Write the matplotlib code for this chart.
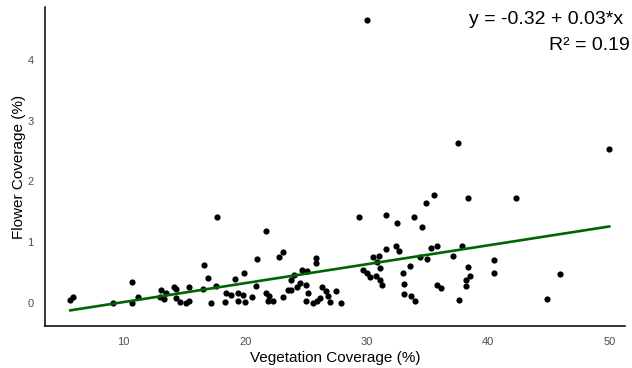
import numpy as np
import matplotlib
matplotlib.use('Agg')
import matplotlib.pyplot as plt

plt.rcParams['font.family'] = ['Liberation Sans', 'DejaVu Sans']

# vegetation coverage (%)
veg = [5.6, 5.8, 9.1, 10.7, 10.7, 11.2, 13.0, 13.1, 13.5, 13.3,
       14.1, 14.3, 14.3, 14.6, 15.1, 15.4, 15.4, 16.6, 16.9, 17.7,
       16.5, 17.2, 17.6, 18.3, 18.4, 18.8, 19.2, 19.4, 19.9, 19.4,
       19.8, 20.0, 20.6, 20.9, 21.0, 21.7, 21.7, 22.0, 21.9, 22.3,
       22.8, 23.1, 23.1, 23.5, 23.8, 24.0, 24.5, 24.7, 25.0, 25.1,
       24.3, 23.8, 25.2, 25.0, 25.6, 25.9, 26.2, 26.3, 26.7, 26.8,
       27.0, 27.5, 27.9, 25.8, 25.8, 29.4, 30.0, 29.7, 30.0, 30.3,
       30.5, 31.0, 30.9, 31.1, 30.8, 31.1, 31.3, 31.6, 31.6, 32.4,
       32.5, 32.7, 33.0, 33.6, 33.1, 33.1, 33.7, 34.0, 33.9, 34.6,
       34.9, 35.6, 34.4, 35.0, 35.3, 35.8, 37.1, 37.9, 35.8, 36.1,
       37.5, 37.6, 38.2, 38.4, 38.5, 38.2, 38.4, 40.5, 40.5, 42.3,
       44.9, 45.9, 50.0]

# flower coverage (%)
flower = [0.05, 0.09, 0.0, 0.35, 0.0, 0.09, 0.09, 0.21, 0.17, 0.06,
          0.27, 0.23, 0.08, 0.02, 0.0, 0.04, 0.27, 0.63, 0.41, 1.41,
          0.23, 0.0, 0.28, 0.02, 0.16, 0.13, 0.39, 0.16, 0.5, 0.03,
          0.13, 0.02, 0.09, 0.28, 0.72, 1.19, 0.17, 0.12, 0.04, 0.04,
          0.76, 0.84, 0.1, 0.21, 0.38, 0.46, 0.33, 0.55, 0.3, 0.52,
          0.27, 0.21, 0.16, 0.04, 0.0, 0.04, 0.08, 0.27, 0.19, 0.12,
          0.01, 0.19, 0.0, 0.74, 0.66, 1.42, 4.66, 0.55, 0.5, 0.42,
          0.76, 0.77, 0.68, 0.57, 0.44, 0.37, 0.29, 1.44, 0.89, 0.94,
          1.32, 0.86, 0.49, 0.6, 0.31, 0.14, 0.12, 0.04, 1.42, 1.25,
          1.64, 1.77, 0.75, 0.72, 0.91, 0.93, 0.78, 0.93, 0.3, 0.24,
          2.64, 0.05, 0.37, 0.59, 0.45, 0.28, 1.72, 0.71, 0.5, 1.72,
          0.07, 0.48, 2.53]

x = np.array(veg)
y = np.array(flower)

# linear fit
slope, intercept = np.polyfit(x, y, 1)
xl = np.array([x.min(), x.max()])

fig = plt.figure(figsize=(6.32, 3.68), dpi=100)
ax = fig.add_axes([0.071, 0.114, 0.918, 0.867])

ax.scatter(x, y, s=20, color='black', zorder=3, linewidths=0)
ax.plot(xl, intercept + slope * xl, color='#006400', lw=1.9, zorder=4)

ax.set_xlim(3.5, 51.3)
ax.set_ylim(-0.38, 4.87)
ax.set_xticks([10, 20, 30, 40, 50])
ax.set_yticks([0, 1, 2, 3, 4])

for s in ['top', 'right']:
    ax.spines[s].set_visible(False)
for s in ['left', 'bottom']:
    ax.spines[s].set_linewidth(1.1)
    ax.spines[s].set_color('black')

ax.tick_params(length=0, labelsize=8, labelcolor='#4d4d4d', pad=8)
ax.set_xlabel('Vegetation Coverage (%)', fontsize=11, labelpad=3)
ax.set_ylabel('Flower Coverage (%)', fontsize=11, labelpad=1)

# equation text in the top right corner
fig.text(0.9858, 0.9457, 'y = -0.32 + 0.03*x', ha='right', va='center', fontsize=14)
fig.text(0.997, 0.875, 'R² = 0.19', ha='right', va='center', fontsize=14)

fig.savefig('out.png', dpi=100)
